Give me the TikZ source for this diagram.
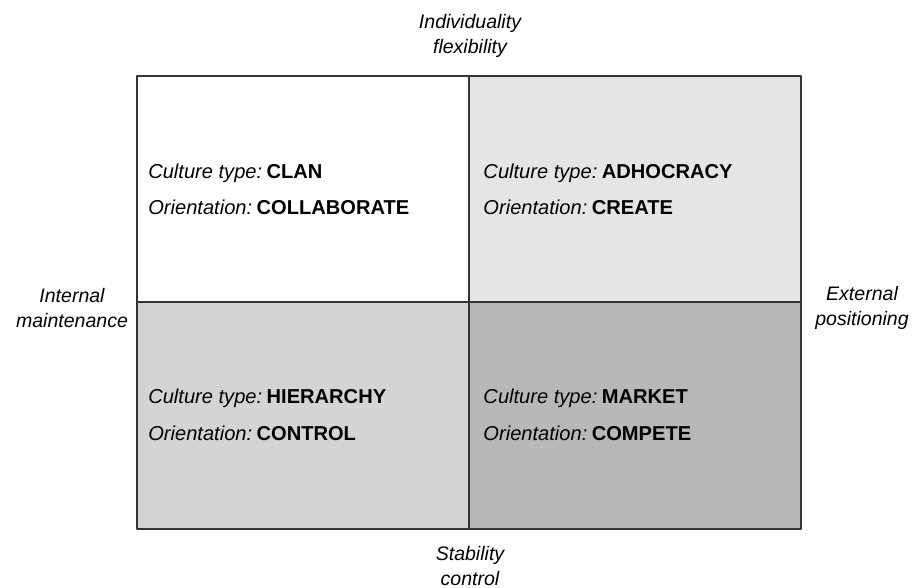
\documentclass[tikz,border=0pt]{standalone}
\usepackage{fontspec}
\setmainfont{Liberation Sans}
\usetikzlibrary{positioning}
\definecolor{adhocfill}{gray}{0.90}
\definecolor{hierfill}{gray}{0.83}
\definecolor{marketfill}{gray}{0.72}
\definecolor{gridline}{gray}{0.2}
\tikzset{
  celltext/.style={anchor=base west,inner sep=0pt,font=\fontsize{14.3}{16}\selectfont},
  axislabel/.style={align=center,inner sep=0pt,font=\itshape\fontsize{13.9}{17.8}\selectfont}
}
\newcommand{\celltype}[2]{\textit{#1}\hspace{0.22em}\textbf{#2}}
\begin{document}
\begin{tikzpicture}[line cap=round,line join=round,x=1.0cm,y=1.0cm]
		\useasboundingbox (0,0) rectangle (22.8,14.7);
		\fill [adhocfill] (11.725,7.15) rectangle (20.025,12.8);
		\fill [hierfill] (3.425,1.475) rectangle (11.725,7.15);
		\fill [marketfill] (11.725,1.475) rectangle (20.025,7.15);
		\draw [gridline,line width=1.1pt] (3.425,1.475) rectangle (20.025,12.8);
		\draw [gridline,line width=1.1pt] (11.725,1.475)-- (11.725,12.8);
		\draw [gridline,line width=1.1pt] (3.425,7.15)-- (20.025,7.15);
		\node [celltext] (clantype) at (3.7,10.24) {\celltype{Culture type:}{CLAN}};
		\node [celltext] (clanorient) at (3.7,9.34) {\celltype{Orientation:}{COLLABORATE}};
		\node [celltext] (adhoctype) at (12.08,10.24) {\celltype{Culture type:}{ADHOCRACY}};
		\node [celltext] (adhocorient) at (12.08,9.34) {\celltype{Orientation:}{CREATE}};
		\node [celltext] (hiertype) at (3.7,4.61) {\celltype{Culture type:}{HIERARCHY}};
		\node [celltext] (hierorient) at (3.7,3.69) {\celltype{Orientation:}{CONTROL}};
		\node [celltext] (markettype) at (12.08,4.61) {\celltype{Culture type:}{MARKET}};
		\node [celltext] (marketorient) at (12.08,3.69) {\celltype{Orientation:}{COMPETE}};
		\node [axislabel] (top) at (11.75,13.81) {Individuality\\flexibility};
		\node [axislabel] (left) at (1.8,7.01) {Internal\\maintenance};
		\node [axislabel] (right) at (21.55,7.01) {External\\positioning};
		\node [axislabel] (bottom) at (11.75,0.54) {Stability\\control};
\end{tikzpicture}
\end{document}
